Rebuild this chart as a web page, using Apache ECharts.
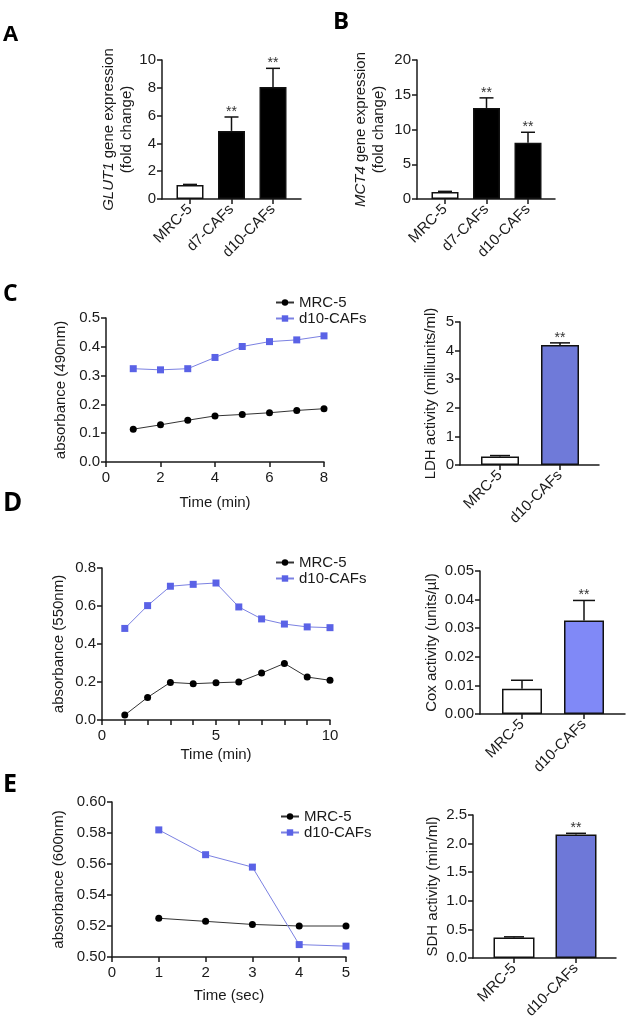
<!DOCTYPE html>
<html><head><meta charset="utf-8">
<script src="https://cdn.jsdelivr.net/npm/echarts@6/dist/echarts.min.js"></script>
<style>html,body{margin:0;padding:0;background:#fff}#c{width:628px;height:1028px}</style>
</head><body><div id="c"></div>
<script>
// ---------- data ----------
const catsThree = ['MRC-5', 'd7-CAFs', 'd10-CAFs'];
const catsTwo = ['MRC-5', 'd10-CAFs'];
const glut1Mean = [1.0, 4.9, 8.05];
const glut1Err = [0.05, 1.0, 1.35];
const glut1Sig = ['', '**', '**'];
const mct4Mean = [1.0, 13.1, 8.1];
const mct4Err = [0.1, 1.45, 1.5];
const mct4Sig = ['', '**', '**'];
const ldhMean = [0.3, 4.2];
const ldhErr = [0.03, 0.07];
const ldhSig = ['', '**'];
const coxMean = [0.0088, 0.0327];
const coxErr = [0.003, 0.007];
const coxSig = ['', '**'];
const sdhMean = [0.36, 2.16];
const sdhErr = [0.01, 0.02];
const sdhSig = ['', '**'];
const timeC = [1, 2, 3, 4, 5, 6, 7, 8];
const mrcC = [0.114, 0.129, 0.145, 0.160, 0.165, 0.171, 0.179, 0.185];
const cafC = [0.324, 0.320, 0.324, 0.363, 0.401, 0.418, 0.424, 0.438];
const timeD = [1, 2, 3, 4, 5, 6, 7, 8, 9, 10];
const mrcD = [0.026, 0.119, 0.198, 0.191, 0.196, 0.200, 0.247, 0.298, 0.226, 0.209];
const cafD = [0.482, 0.602, 0.704, 0.714, 0.721, 0.595, 0.532, 0.505, 0.490, 0.486];
const timeE = [1, 2, 3, 4, 5];
const mrcE = [0.525, 0.523, 0.521, 0.520, 0.520];
const cafE = [0.582, 0.566, 0.558, 0.508, 0.507];
const seriesNames = ['MRC-5', 'd10-CAFs'];
const panelLetters = ['A', 'B', 'C', 'D', 'E'];

// ---------- styling ----------
const FONT = "'Liberation Sans', Arial, sans-serif";
const FS = 15;
const AX = '#1a1a1a';
const TXT = '#1a1a1a';
const axLine = { show: true, onZero: false, lineStyle: { color: AX, width: 1.5 } };
const axTick = { show: true, length: 5, lineStyle: { color: AX, width: 1.5 } };

function valueY(gridIndex, min, max, interval, dec, name, gap, rich) {
  return {
    type: 'value', gridIndex, min, max, interval,
    name, nameLocation: 'middle', nameRotate: 90, nameGap: gap,
    nameTextStyle: { fontSize: FS, color: TXT, fontFamily: FONT, lineHeight: 18, rich: rich || {} },
    axisLine: axLine, axisTick: axTick,
    axisLabel: { fontSize: FS, color: TXT, fontFamily: FONT, margin: 6, formatter: v => v.toFixed(dec) },
    splitLine: { show: false }
  };
}
function hiddenY(gridIndex, min, max) {
  return { type: 'value', gridIndex, min, max, show: false, splitLine: { show: false } };
}
function frameX(gridIndex) {
  return { type: 'value', gridIndex, min: 0, max: 1, axisLine: axLine, axisTick: { show: false },
    axisLabel: { show: false }, splitLine: { show: false } };
}
function catX(gridIndex, cats) {
  return { type: 'category', gridIndex, data: cats, axisLine: { show: false },
    axisTick: { show: true, alignWithLabel: true, length: 5, lineStyle: { color: AX, width: 1.5 } },
    axisLabel: { rotate: 45, interval: 0, fontSize: FS, color: TXT, fontFamily: FONT, margin: 8 },
    splitLine: { show: false } };
}
function timeX(gridIndex, max, interval, name, gap, minor) {
  const o = { type: 'value', gridIndex, min: 0, max, interval, name, nameLocation: 'middle', nameGap: gap,
    nameTextStyle: { fontSize: FS, color: TXT, fontFamily: FONT },
    axisLine: axLine, axisTick: axTick,
    axisLabel: { fontSize: FS, color: TXT, fontFamily: FONT, margin: 8 },
    splitLine: { show: false } };
  if (minor) { o.minorTick = { show: true, splitNumber: minor, length: 5, lineStyle: { color: AX, width: 1.5 } }; o.minorSplitLine = { show: false }; }
  return o;
}
function barSeries(idx, means, fill, width) {
  return { type: 'bar', name: 'bar' + idx, xAxisIndex: idx, yAxisIndex: idx, barWidth: width,
    data: means.map((v, i) => ({ value: v, itemStyle: { color: i === 0 ? '#ffffff' : fill } })),
    itemStyle: { borderColor: '#111', borderWidth: 1.5 }, z: 2 };
}
function errSeries(idx, means, errs, sigs, cap) {
  return { type: 'custom', name: 'err' + idx, xAxisIndex: idx, yAxisIndex: idx, z: 5,
    data: means.map((m, i) => [i, m, errs[i]]),
    renderItem: (params, api) => {
      const i = api.value(0), m = api.value(1), e = api.value(2);
      const p0 = api.coord([i, m]);
      const p1 = api.coord([i, m + e]);
      const ch = [
        { type: 'line', shape: { x1: p0[0], y1: p0[1], x2: p1[0], y2: p1[1] }, style: { stroke: '#111', lineWidth: 1.5 } },
        { type: 'line', shape: { x1: p1[0] - cap, y1: p1[1], x2: p1[0] + cap, y2: p1[1] }, style: { stroke: '#111', lineWidth: 1.5 } }
      ];
      const s = sigs[params.dataIndex];
      if (s) ch.push({ type: 'text', x: p1[0], y: p1[1] - 12,
        style: { text: s, align: 'center', verticalAlign: 'top', fontSize: 14, fontFamily: FONT, fill: '#333' } });
      return { type: 'group', children: ch };
    } };
}
function lineSeries(idx, name, xs, ys, isCaf) {
  return { type: 'line', name, xAxisIndex: idx, yAxisIndex: idx,
    data: xs.map((t, i) => [t, ys[i]]),
    symbol: isCaf ? 'rect' : 'circle', symbolSize: 7,
    itemStyle: { color: isCaf ? '#5a62e6' : '#000' },
    lineStyle: { color: isCaf ? '#7b81e2' : '#333', width: 1 } };
}
function legendAt(left, top) {
  return { data: seriesNames, left, top, orient: 'vertical', itemWidth: 18, itemHeight: 8, itemGap: 1,
    padding: 0, selectedMode: false, textStyle: { fontSize: FS, color: TXT, fontFamily: FONT } };
}

const grids = [
  { left: 162, top: 60, width: 139, height: 139 },      // 0 A frame
  { left: 169.25, top: 60, width: 124.5, height: 139 }, // 1 A bars
  { left: 417, top: 60, width: 138, height: 139 },      // 2 B frame
  { left: 424.25, top: 60, width: 124.5, height: 139 }, // 3 B bars
  { left: 106, top: 318, width: 218, height: 144 },     // 4 C line
  { left: 460, top: 322, width: 139, height: 143 },     // 5 LDH frame
  { left: 470, top: 322, width: 120, height: 143 },     // 6 LDH bars
  { left: 102, top: 568, width: 228, height: 152 },     // 7 D line
  { left: 480, top: 571, width: 145, height: 143 },     // 8 Cox frame
  { left: 491, top: 571, width: 124, height: 143 },     // 9 Cox bars
  { left: 112, top: 802, width: 234, height: 155 },     // 10 E line
  { left: 473, top: 815, width: 143, height: 143 },     // 11 SDH frame
  { left: 483, top: 815, width: 124, height: 143 }      // 12 SDH bars
].map(g => Object.assign({ containLabel: false }, g));

const italic = { it: { fontStyle: 'italic', fontSize: FS, color: TXT, fontFamily: FONT } };

const xAxis = [
  frameX(0), catX(1, catsThree), frameX(2), catX(3, catsThree),
  timeX(4, 8, 2, 'Time (min)', 33),
  frameX(5), catX(6, catsTwo),
  timeX(7, 10, 5, 'Time (min)', 27, 5),
  frameX(8), catX(9, catsTwo),
  timeX(10, 5, 1, 'Time (sec)', 31),
  frameX(11), catX(12, catsTwo)
];
const yAxis = [
  valueY(0, 0, 10, 2, 0, '{it|GLUT1} gene expression\n(fold change)', 19, italic),
  hiddenY(1, 0, 10),
  valueY(2, 0, 20, 5, 0, '{it|MCT4} gene expression\n(fold change)', 29, italic),
  hiddenY(3, 0, 20),
  valueY(4, 0, 0.5, 0.1, 1, 'absorbance (490nm)', 36),
  valueY(5, 0, 5, 1, 0, 'LDH activity (milliunits/ml)', 20),
  hiddenY(6, 0, 5),
  valueY(7, 0, 0.8, 0.2, 1, 'absorbance (550nm)', 34),
  valueY(8, 0, 0.05, 0.01, 2, 'Cox activity (units/\u00b5l)', 39),
  hiddenY(9, 0, 0.05),
  valueY(10, 0.5, 0.6, 0.02, 2, 'absorbance (600nm)', 44),
  valueY(11, 0, 2.5, 0.5, 1, 'SDH activity (min/ml)', 29),
  hiddenY(12, 0, 2.5)
];

const series = [
  barSeries(1, glut1Mean, '#000000', 27), errSeries(1, glut1Mean, glut1Err, glut1Sig, 7),
  barSeries(3, mct4Mean, '#000000', 27), errSeries(3, mct4Mean, mct4Err, mct4Sig, 7),
  lineSeries(4, seriesNames[0], timeC, mrcC, false), lineSeries(4, seriesNames[1], timeC, cafC, true),
  barSeries(6, ldhMean, '#6f7ad9', 38), errSeries(6, ldhMean, ldhErr, ldhSig, 10),
  lineSeries(7, seriesNames[0], timeD, mrcD, false), lineSeries(7, seriesNames[1], timeD, cafD, true),
  barSeries(9, coxMean, '#8089f7', 40), errSeries(9, coxMean, coxErr, coxSig, 11),
  lineSeries(10, seriesNames[0], timeE, mrcE, false), lineSeries(10, seriesNames[1], timeE, cafE, true),
  barSeries(12, sdhMean, '#6e78d8', 41), errSeries(12, sdhMean, sdhErr, sdhSig, 10)
];

const letterPos = [[3, 35, 22], [333, 22, 24], [3, 294, 23], [3, 504, 26], [3, 785, 25]];
const graphic = panelLetters.map((L, i) => ({ type: 'text', x: letterPos[i][0], y: letterPos[i][1],
  style: { text: L, fontSize: letterPos[i][2], fontWeight: 'bold', fontFamily: "'Open Sans', 'Liberation Sans', sans-serif",
    verticalAlign: 'middle', fill: '#000' } }));

const chart = echarts.init(document.getElementById('c'), null, { renderer: 'canvas' });
chart.setOption({
  backgroundColor: '#ffffff',
  animation: false,
  textStyle: { fontFamily: FONT },
  grid: grids, xAxis, yAxis, series,
  legend: [legendAt(275, 295), legendAt(275, 555), legendAt(280, 809)],
  graphic
});
</script></body></html>
